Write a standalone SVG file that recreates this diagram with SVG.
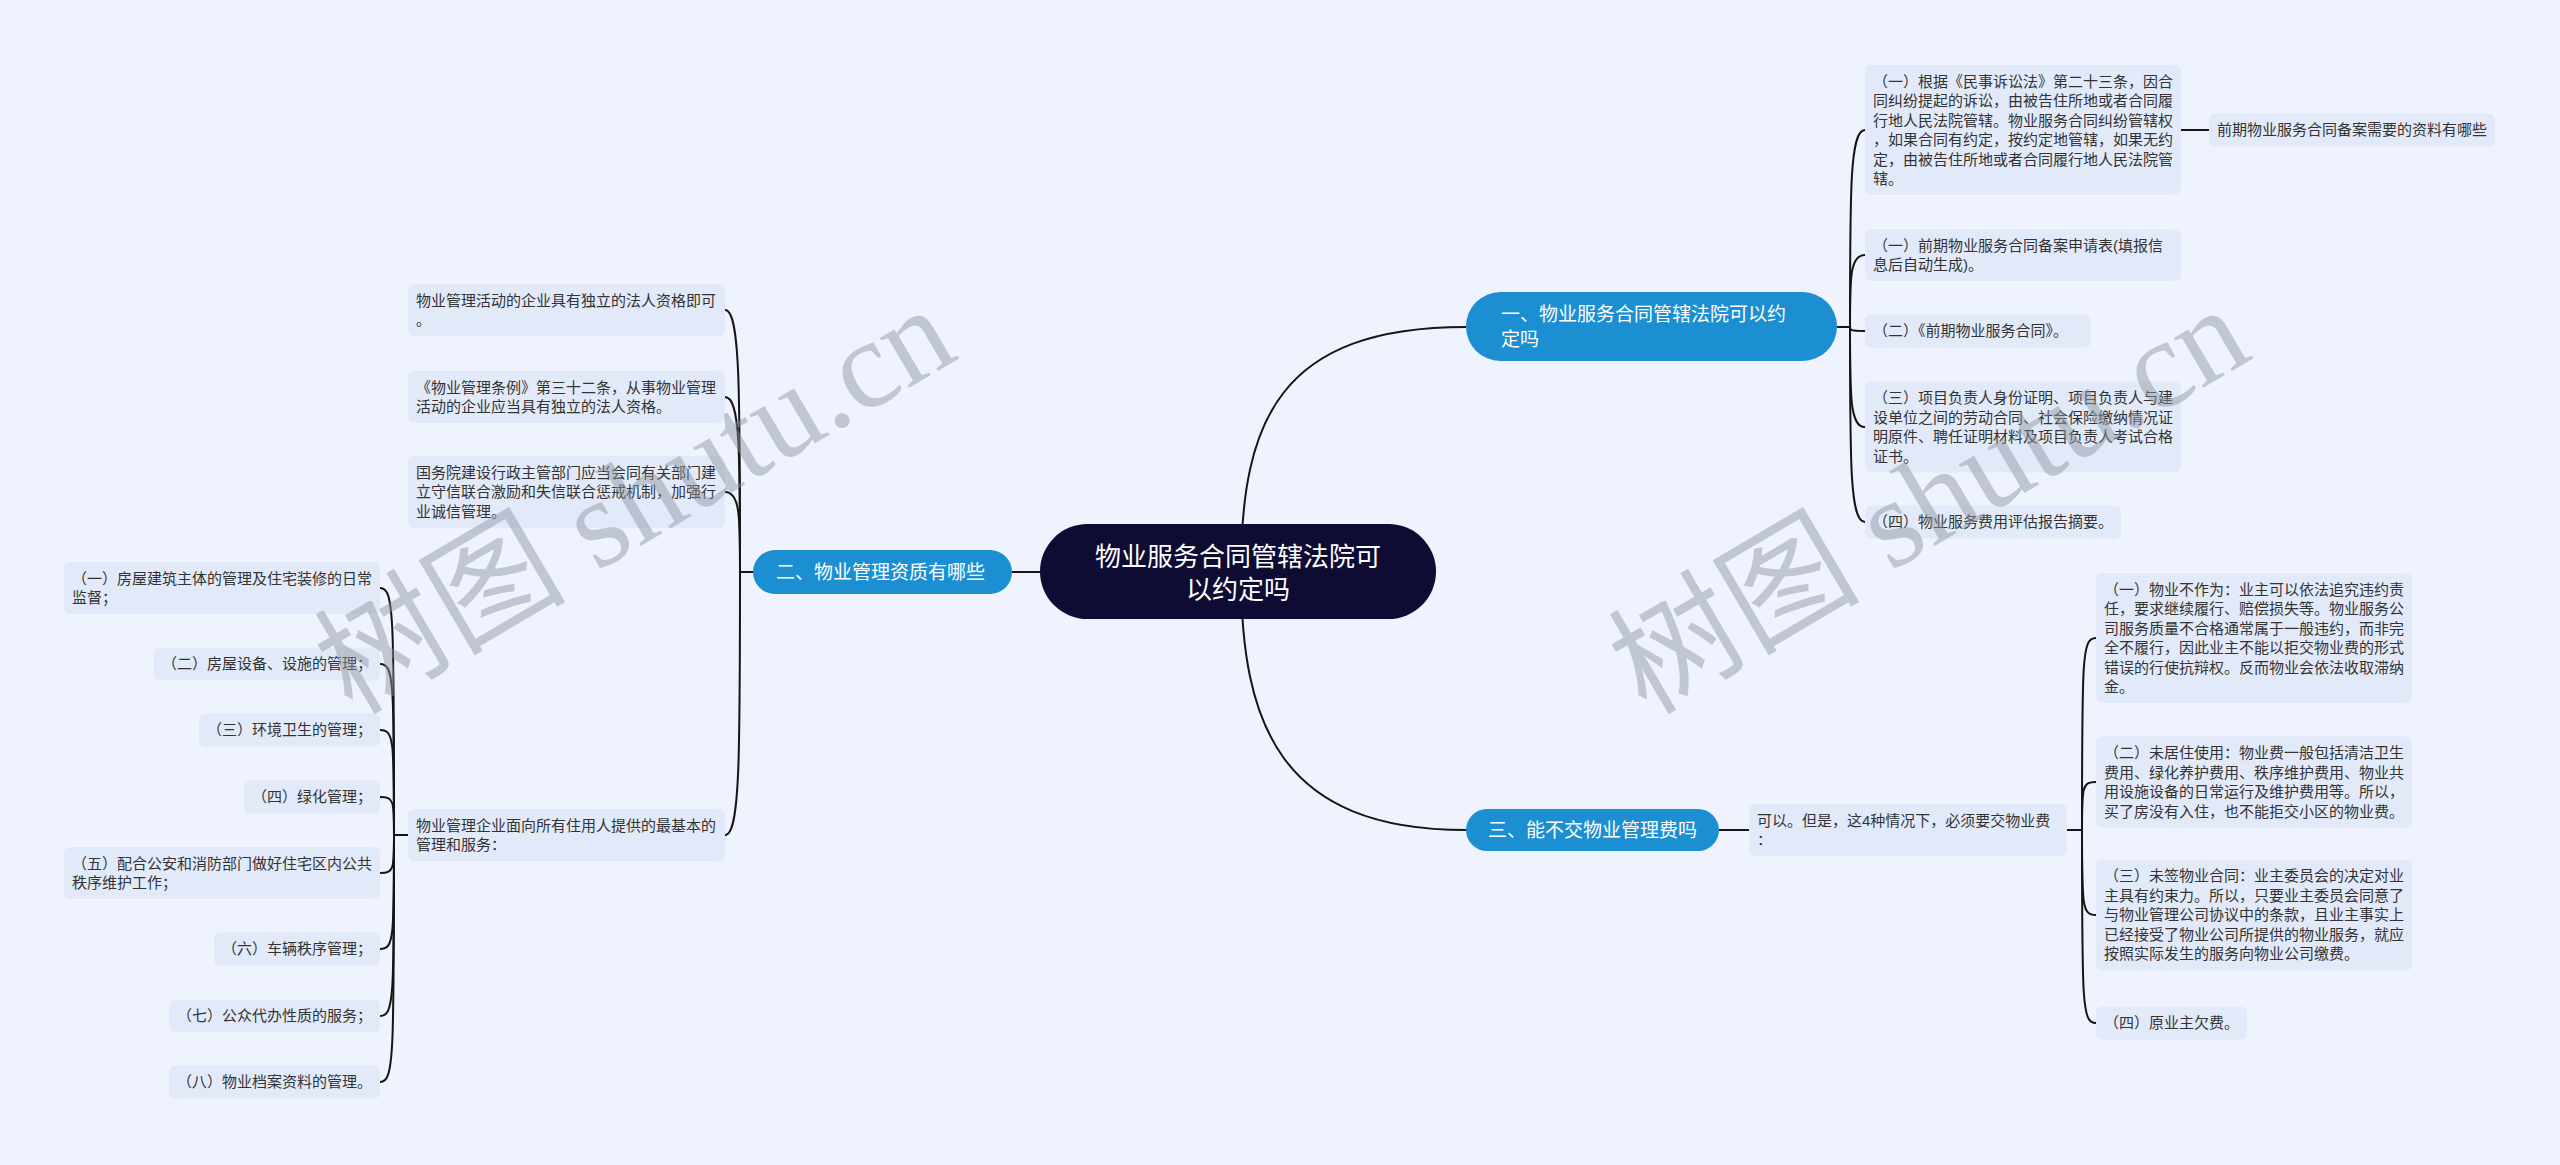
<svg xmlns="http://www.w3.org/2000/svg" width="2560" height="1165" viewBox="0 0 2560 1165">
<style>
.bg{fill:#eef3fd}
.box{fill:#e2eafa}
.t{font-family:"Liberation Sans","Noto Sans CJK SC",sans-serif;font-size:15px;fill:#333}
.br{fill:#1b8fd2}
.bt{font-family:"Liberation Sans","Noto Sans CJK SC",sans-serif;font-size:19px;fill:#fff}
.root{fill:#0e0c33}
.rt{font-family:"Liberation Sans","Noto Sans CJK SC",sans-serif;font-size:26px;fill:#fff;text-anchor:middle}
.c{fill:none;stroke:#151515;stroke-width:2}
.wm{font-family:"Liberation Serif","Noto Sans CJK SC",serif;font-size:126px;fill:#8f96a3;opacity:0.47}
</style>
<rect class="bg" x="0" y="0" width="2560" height="1165"/>
<g id="connectors">
<path class="c" d="M1241 572 C1241 420 1280 327 1466 327"/>
<path class="c" d="M1241 572 C1241 724 1280 830 1466 830"/>
<path class="c" d="M1040 572 H1012"/>
<path class="c" d="M1837 327 H1850"/>
<path class="c" d="M1850 327 C1850 189 1850 130 1865 130"/>
<path class="c" d="M1850 327 C1850 277 1850 255 1865 255"/>
<path class="c" d="M1850 327 C1850 330 1850 331 1865 331"/>
<path class="c" d="M1850 327 C1850 397 1850 427 1865 427"/>
<path class="c" d="M1850 327 C1850 464 1850 522 1865 522"/>
<path class="c" d="M2181 130 H2209"/>
<path class="c" d="M753 572 H740"/>
<path class="c" d="M740 572 C740 389 740 310 725 310"/>
<path class="c" d="M740 572 C740 450 740 397 725 397"/>
<path class="c" d="M740 572 C740 516 740 492 725 492"/>
<path class="c" d="M740 572 C740 756 740 835 725 835"/>
<path class="c" d="M408 835 H394"/>
<path class="c" d="M394 835 C394 613 394 588 380 588"/>
<path class="c" d="M394 835 C394 681 394 664 380 664"/>
<path class="c" d="M394 835 C394 740 394 730 380 730"/>
<path class="c" d="M394 835 C394 801 394 797 380 797"/>
<path class="c" d="M394 835 C394 869 394 873 380 873"/>
<path class="c" d="M394 835 C394 938 394 949 380 949"/>
<path class="c" d="M394 835 C394 998 394 1016 380 1016"/>
<path class="c" d="M394 835 C394 1057 394 1082 380 1082"/>
<path class="c" d="M1719 830 H1749"/>
<path class="c" d="M2067 830 H2082"/>
<path class="c" d="M2082 830 C2082 657 2082 638 2096 638"/>
<path class="c" d="M2082 830 C2082 787 2082 782 2096 782"/>
<path class="c" d="M2082 830 C2082 906 2082 915 2096 915"/>
<path class="c" d="M2082 830 C2082 1004 2082 1023 2096 1023"/>
</g>
<g id="root">
<rect class="root" x="1040" y="524" width="396" height="95" rx="47.5"/>
<text class="rt" x="1238" y="566">物业服务合同管辖法院可</text>
<text class="rt" x="1238" y="599">以约定吗</text>
</g>
<g id="b1">
<rect class="br" x="1466" y="292" width="371" height="69" rx="34.5"/>
<text class="bt" x="1501" y="321">一、物业服务合同管辖法院可以约</text>
<text class="bt" x="1501" y="346">定吗</text>
</g>
<g id="b2">
<rect class="br" x="753" y="550" width="259" height="44" rx="22"/>
<text class="bt" x="776" y="579">二、物业管理资质有哪些</text>
</g>
<g id="b3">
<rect class="br" x="1466" y="809" width="253" height="42" rx="21"/>
<text class="bt" x="1488" y="837">三、能不交物业管理费吗</text>
</g>
<g id="nA">
<rect class="box" x="1865" y="65" width="316" height="130" rx="6"/>
<text class="t" x="1873" y="86.5">（一）根据《民事诉讼法》第二十三条，因合</text>
<text class="t" x="1873" y="106">同纠纷提起的诉讼，由被告住所地或者合同履</text>
<text class="t" x="1873" y="125.5">行地人民法院管辖。物业服务合同纠纷管辖权</text>
<text class="t" x="1873" y="145">，如果合同有约定，按约定地管辖，如果无约</text>
<text class="t" x="1873" y="164.5">定，由被告住所地或者合同履行地人民法院管</text>
<text class="t" x="1873" y="184">辖。</text>
</g>
<g id="nA1">
<rect class="box" x="2209" y="113.5" width="286" height="33" rx="6"/>
<text class="t" x="2217" y="135">前期物业服务合同备案需要的资料有哪些</text>
</g>
<g id="nB">
<rect class="box" x="1865" y="229" width="316" height="52" rx="6"/>
<text class="t" x="1873" y="250.5">（一）前期物业服务合同备案申请表(填报信</text>
<text class="t" x="1873" y="270">息后自动生成)。</text>
</g>
<g id="nC">
<rect class="box" x="1865" y="314.5" width="226" height="33" rx="6"/>
<text class="t" x="1873" y="336">（二）《前期物业服务合同》。</text>
</g>
<g id="nD">
<rect class="box" x="1865" y="381.5" width="316" height="91" rx="6"/>
<text class="t" x="1873" y="403">（三）项目负责人身份证明、项目负责人与建</text>
<text class="t" x="1873" y="422.5">设单位之间的劳动合同、社会保险缴纳情况证</text>
<text class="t" x="1873" y="442">明原件、聘任证明材料及项目负责人考试合格</text>
<text class="t" x="1873" y="461.5">证书。</text>
</g>
<g id="nE">
<rect class="box" x="1865" y="505.5" width="256" height="33" rx="6"/>
<text class="t" x="1873" y="527">（四）物业服务费用评估报告摘要。</text>
</g>
<g id="nF">
<rect class="box" x="1749" y="804" width="318" height="52" rx="6"/>
<text class="t" x="1757" y="825.5">可以。但是，这4种情况下，必须要交物业费</text>
<text class="t" x="1757" y="845">：</text>
</g>
<g id="nG">
<rect class="box" x="2096" y="573" width="316" height="130" rx="6"/>
<text class="t" x="2104" y="594.5">（一）物业不作为：业主可以依法追究违约责</text>
<text class="t" x="2104" y="614">任，要求继续履行、赔偿损失等。物业服务公</text>
<text class="t" x="2104" y="633.5">司服务质量不合格通常属于一般违约，而非完</text>
<text class="t" x="2104" y="653">全不履行，因此业主不能以拒交物业费的形式</text>
<text class="t" x="2104" y="672.5">错误的行使抗辩权。反而物业会依法收取滞纳</text>
<text class="t" x="2104" y="692">金。</text>
</g>
<g id="nH">
<rect class="box" x="2096" y="736.5" width="316" height="91" rx="6"/>
<text class="t" x="2104" y="758">（二）未居住使用：物业费一般包括清洁卫生</text>
<text class="t" x="2104" y="777.5">费用、绿化养护费用、秩序维护费用、物业共</text>
<text class="t" x="2104" y="797">用设施设备的日常运行及维护费用等。所以，</text>
<text class="t" x="2104" y="816.5">买了房没有入住，也不能拒交小区的物业费。</text>
</g>
<g id="nI">
<rect class="box" x="2096" y="859.5" width="316" height="111" rx="6"/>
<text class="t" x="2104" y="881">（三）未签物业合同：业主委员会的决定对业</text>
<text class="t" x="2104" y="900.5">主具有约束力。所以，只要业主委员会同意了</text>
<text class="t" x="2104" y="920">与物业管理公司协议中的条款，且业主事实上</text>
<text class="t" x="2104" y="939.5">已经接受了物业公司所提供的物业服务，就应</text>
<text class="t" x="2104" y="959">按照实际发生的服务向物业公司缴费。</text>
</g>
<g id="nJ">
<rect class="box" x="2096" y="1006.5" width="151" height="33" rx="6"/>
<text class="t" x="2104" y="1028">（四）原业主欠费。</text>
</g>
<g id="nK">
<rect class="box" x="408" y="284" width="317" height="52" rx="6"/>
<text class="t" x="416" y="305.5">物业管理活动的企业具有独立的法人资格即可</text>
<text class="t" x="416" y="325">。</text>
</g>
<g id="nL">
<rect class="box" x="408" y="371" width="317" height="52" rx="6"/>
<text class="t" x="416" y="392.5">《物业管理条例》第三十二条，从事物业管理</text>
<text class="t" x="416" y="412">活动的企业应当具有独立的法人资格。</text>
</g>
<g id="nM">
<rect class="box" x="408" y="456" width="317" height="72" rx="6"/>
<text class="t" x="416" y="477.5">国务院建设行政主管部门应当会同有关部门建</text>
<text class="t" x="416" y="497">立守信联合激励和失信联合惩戒机制，加强行</text>
<text class="t" x="416" y="516.5">业诚信管理。</text>
</g>
<g id="nN">
<rect class="box" x="408" y="809" width="317" height="52" rx="6"/>
<text class="t" x="416" y="830.5">物业管理企业面向所有住用人提供的最基本的</text>
<text class="t" x="416" y="850">管理和服务：</text>
</g>
<g id="o1">
<rect class="box" x="64" y="562" width="316" height="52" rx="6"/>
<text class="t" x="72" y="583.5">（一）房屋建筑主体的管理及住宅装修的日常</text>
<text class="t" x="72" y="603">监督；</text>
</g>
<g id="o2">
<rect class="box" x="154" y="647.5" width="226" height="33" rx="6"/>
<text class="t" x="162" y="669">（二）房屋设备、设施的管理；</text>
</g>
<g id="o3">
<rect class="box" x="199" y="713.5" width="181" height="33" rx="6"/>
<text class="t" x="207" y="735">（三）环境卫生的管理；</text>
</g>
<g id="o4">
<rect class="box" x="244" y="780.5" width="136" height="33" rx="6"/>
<text class="t" x="252" y="802">（四）绿化管理；</text>
</g>
<g id="o5">
<rect class="box" x="64" y="847" width="316" height="52" rx="6"/>
<text class="t" x="72" y="868.5">（五）配合公安和消防部门做好住宅区内公共</text>
<text class="t" x="72" y="888">秩序维护工作；</text>
</g>
<g id="o6">
<rect class="box" x="214" y="932.5" width="166" height="33" rx="6"/>
<text class="t" x="222" y="954">（六）车辆秩序管理；</text>
</g>
<g id="o7">
<rect class="box" x="169" y="999.5" width="211" height="33" rx="6"/>
<text class="t" x="177" y="1021">（七）公众代办性质的服务；</text>
</g>
<g id="o8">
<rect class="box" x="169" y="1065.5" width="211" height="33" rx="6"/>
<text class="t" x="177" y="1087">（八）物业档案资料的管理。</text>
</g>
<g id="watermark">
<text class="wm" transform="translate(352 716) rotate(-30.5)">树图 shutu.cn</text>
<text class="wm" transform="translate(1646 716) rotate(-30.5)">树图 shutu.cn</text>
</g>
</svg>
